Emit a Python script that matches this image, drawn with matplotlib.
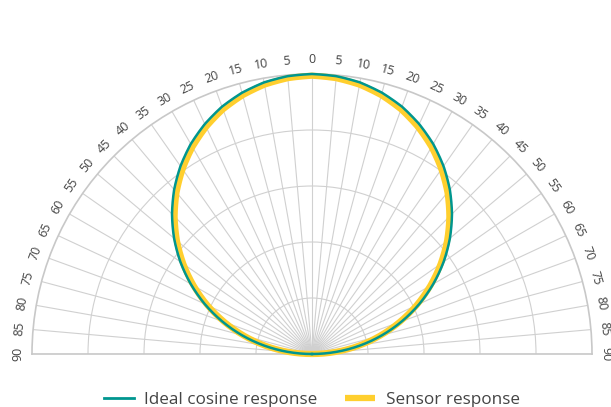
import numpy as np
import matplotlib
matplotlib.use("Agg")
import matplotlib.pyplot as plt
from matplotlib.lines import Line2D

# ---- data ----
angles_deg = [-90, -85, -80, -75, -70, -65, -60, -55, -50, -45, -40, -35, -30, -25, -20, -15, -10, -5,
              0, 5, 10, 15, 20, 25, 30, 35, 40, 45, 50, 55, 60, 65, 70, 75, 80, 85, 90]
ideal = [0.000, 0.087, 0.174, 0.259, 0.342, 0.423, 0.500, 0.574, 0.643, 0.707, 0.766, 0.819, 0.866,
         0.906, 0.940, 0.966, 0.985, 0.996, 1.000, 0.996, 0.985, 0.966, 0.940, 0.906, 0.866, 0.819,
         0.766, 0.707, 0.643, 0.574, 0.500, 0.423, 0.342, 0.259, 0.174, 0.087, 0.000]
sensor = [0.000, 0.084, 0.169, 0.251, 0.332, 0.412, 0.488, 0.561, 0.630, 0.694, 0.753, 0.806, 0.854,
          0.895, 0.930, 0.957, 0.977, 0.989, 0.994, 0.989, 0.977, 0.957, 0.930, 0.895, 0.854, 0.806,
          0.753, 0.694, 0.630, 0.561, 0.488, 0.412, 0.332, 0.251, 0.169, 0.084, 0.000]
label_angles = [-90, -85, -80, -75, -70, -65, -60, -55, -50, -45, -40, -35, -30, -25, -20, -15, -10, -5,
                0, 5, 10, 15, 20, 25, 30, 35, 40, 45, 50, 55, 60, 65, 70, 75, 80, 85, 90]
label_texts = [str(abs(a)) for a in label_angles]
ring_values = [0.2, 0.4, 0.6, 0.8]
series_names = ["Ideal cosine response", "Sensor response"]

TEAL = "#00968f"
YELLOW = "#ffcf2e"
GRID = "#d0d0d0"
TEXT = "#444444"

plt.rcParams['font.family'] = ['Open Sans', 'DejaVu Sans']

W, H = 611, 407
fig = plt.figure(figsize=(W/100, H/100), dpi=100)
# square box: the half-disc wedge is padded to a square inside the polar axes
cx, cy, R = 312, 354, 280
left = (cx - R) / W
size_w = 2 * R / W
top_px = cy - R / 2 - R
bottom = (H - (top_px + 2 * R)) / H
size_h = 2 * R / H
ax = fig.add_axes([left, bottom, size_w, size_h], projection='polar')
ax.set_theta_zero_location('N')
ax.set_theta_direction(-1)
ax.set_thetamin(-90)
ax.set_thetamax(90)
ax.set_rlim(0, 1)
ax.set_rticks(ring_values)
ax.set_yticklabels([])
ax.set_thetagrids(angles_deg, labels=[])
ax.tick_params(length=0)
ax.grid(True, color=GRID, linewidth=0.8)
for name in ['polar', 'start', 'end']:
    ax.spines[name].set_color('#c8c8c8')
    ax.spines[name].set_linewidth(1.2)
ax.spines['inner'].set_visible(False)

th = np.deg2rad(angles_deg)
l_sensor, = ax.plot(th, sensor, color=YELLOW, lw=4.5, clip_on=False, zorder=3,
                    solid_capstyle='butt', solid_joinstyle='round')
l_ideal, = ax.plot(th, ideal, color=TEAL, lw=1.8, clip_on=False, zorder=4,
                   solid_joinstyle='round')
# let the polar transform draw each segment as a smooth arc-like curve
for ln in (l_sensor, l_ideal):
    ln.get_path()._interpolation_steps = 16

for a, t in zip(label_angles, label_texts):
    ax.text(np.deg2rad(a), 1.05, t, rotation=-a, rotation_mode='anchor',
            ha='center', va='center', fontsize=9, color=TEXT, clip_on=False)

handles = [Line2D([], [], color=TEAL, lw=2.0),
           Line2D([], [], color=YELLOW, lw=4.5, solid_capstyle='butt')]
fig.legend(handles, series_names, loc='lower center', bbox_to_anchor=(0.51, -0.04), ncol=2,
           frameon=False, fontsize=12.3, handlelength=1.75, handletextpad=0.64,
           columnspacing=1.58, labelcolor=TEXT)

fig.savefig('out.png', dpi=100)
